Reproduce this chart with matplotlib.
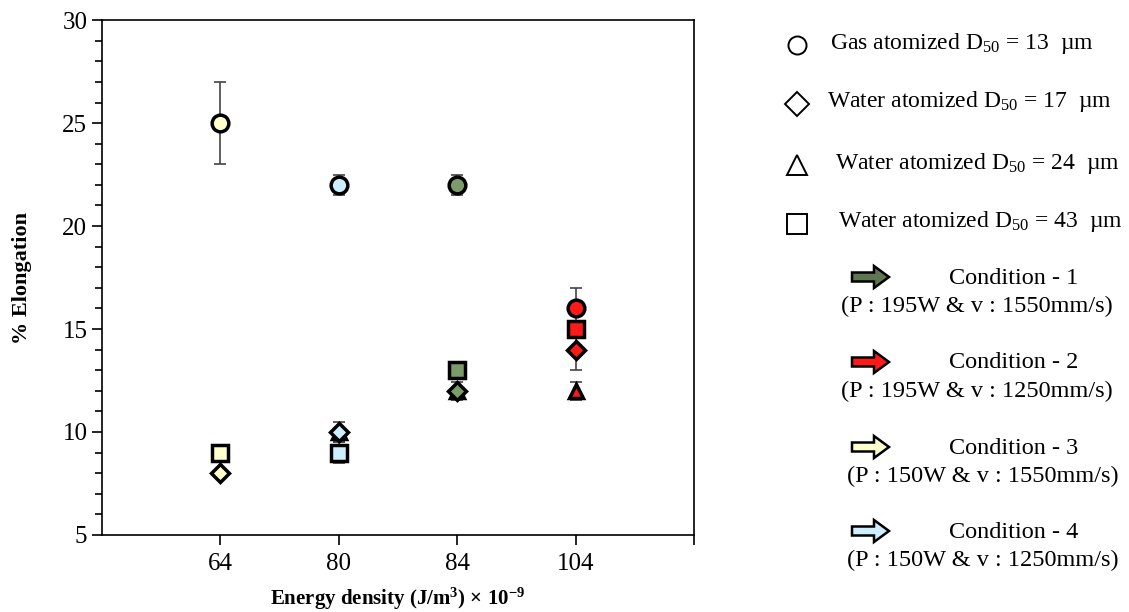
import matplotlib
matplotlib.use("Agg")
import matplotlib.pyplot as plt
from matplotlib.patches import FancyArrow
import numpy as np

plt.rcParams['font.family'] = ['Liberation Serif', 'DejaVu Serif']
plt.rcParams['mathtext.default'] = 'regular'

# energy density groups, each printed with one process condition
energy = ["64", "80", "84", "104"]
group_colors = ["#ffffcc", "#cceeff", "#7d9a6b", "#ff1a1a"]

nan = np.nan
gas13 = [25, 22, 22, 16]
gas13_err = [2, 0.5, 0.5, 1]
water17 = [8, 10, 12, 14]
water17_err = [nan, nan, nan, 1]
water24 = [nan, 10, 12, 12]
water24_err = [nan, 0.5, 0.45, 0.45]
water43 = [9, 9, 13, 15]
water43_err = [nan, 0.5, 0.4, nan]

powder_labels = ["Gas atomized D$_{50}$ = 13  µm",
                 "Water atomized D$_{50}$ = 17  µm",
                 "Water atomized D$_{50}$ = 24  µm",
                 "Water atomized D$_{50}$ = 43  µm"]
condition_names = ["Condition - 1", "Condition - 2", "Condition - 3", "Condition - 4"]
condition_params = ["(P : 195W & v : 1550mm/s)", "(P : 195W & v : 1250mm/s)",
                    "(P : 150W & v : 1550mm/s)", "(P : 150W & v : 1250mm/s)"]
condition_colors = ["#5f7650", "#ff1a1a", "#ffffcc", "#cceeff"]

fig = plt.figure(figsize=(11.29, 6.12), dpi=100)
ax = fig.add_axes([0.0903, 0.126, 0.5245, 0.841])

x = np.arange(1, len(energy) + 1)
series = [(water24, water24_err, "^", 10.5),
          (water17, water17_err, "D", 9),
          (water43, water43_err, "s", 11),
          (gas13, gas13_err, "o", 12)]
for vals, errs, mk, ms in series:
    for xi, v, e, c in zip(x, vals, errs, group_colors):
        if np.isnan(v):
            continue
        if not np.isnan(e):
            ax.errorbar(xi, v, yerr=e, fmt="none", ecolor="#444444",
                        elinewidth=1.2, capsize=4, capthick=1.2, zorder=2)
        ax.plot(xi, v, marker=mk, ms=ms, mfc=c, mec="black", mew=2.5,
                ls="none", zorder=3)

ax.set_xlim(0, 5)
ax.set_ylim(5, 30)
ax.set_xticks([1, 2, 3, 4, 5])
ax.set_xticklabels(energy + [""])
ax.set_yticks(range(5, 31, 5))
ax.set_yticks(range(5, 31), minor=True)
ax.tick_params(axis="both", which="major", direction="out", length=7,
               width=1.2, labelsize=18, colors="black")
ax.tick_params(axis="y", which="minor", direction="out", length=5, width=1.2)
ax.tick_params(axis="x", pad=6)
for sp in ax.spines.values():
    sp.set_linewidth(1.2)

ax.set_ylabel("% Elongation", fontsize=16, fontweight="bold", labelpad=22)
ax.set_xlabel("Energy density (J/m$^3$) × 10$^{-9}$", fontsize=15,
              fontweight="bold", labelpad=8)

# key drawn in pixel coordinates on an overlay
key = fig.add_axes([0, 0, 1, 1], zorder=5)
key.set_xlim(0, 1129)
key.set_ylim(612, 0)
key.axis("off")

key_markers = [("o", 13, 45), ("D", 12.5, 104), ("^", 15, 165), ("s", 15, 224)]
text_x = [830, 827, 835, 838]
for (mk, ms, y), tx, lab in zip(key_markers, text_x, powder_labels):
    key.plot(797, y, marker=mk, ms=ms, mfc="white", mec="black", mew=1.4)
    key.text(tx, y - 2, lab, fontsize=17, va="center", ha="left")

arrow_y = [277, 362, 447, 531]
name_x = [1014, 1014, 1014, 1014]
param_x = [977, 977, 983, 983]
for y, nx, px, name, par, c in zip(arrow_y, name_x, param_x, condition_names,
                                   condition_params, condition_colors):
    key.add_patch(FancyArrow(852, y, 37, 0, width=9, head_width=22,
                             head_length=15, length_includes_head=True,
                             fc=c, ec="black", lw=1.8))
    key.text(nx, y + 1, name, fontsize=17.5, ha="center", va="center")
    key.text(px, y + 29, par, fontsize=17.5, ha="center", va="center")

fig.savefig("out.png", dpi=100)
